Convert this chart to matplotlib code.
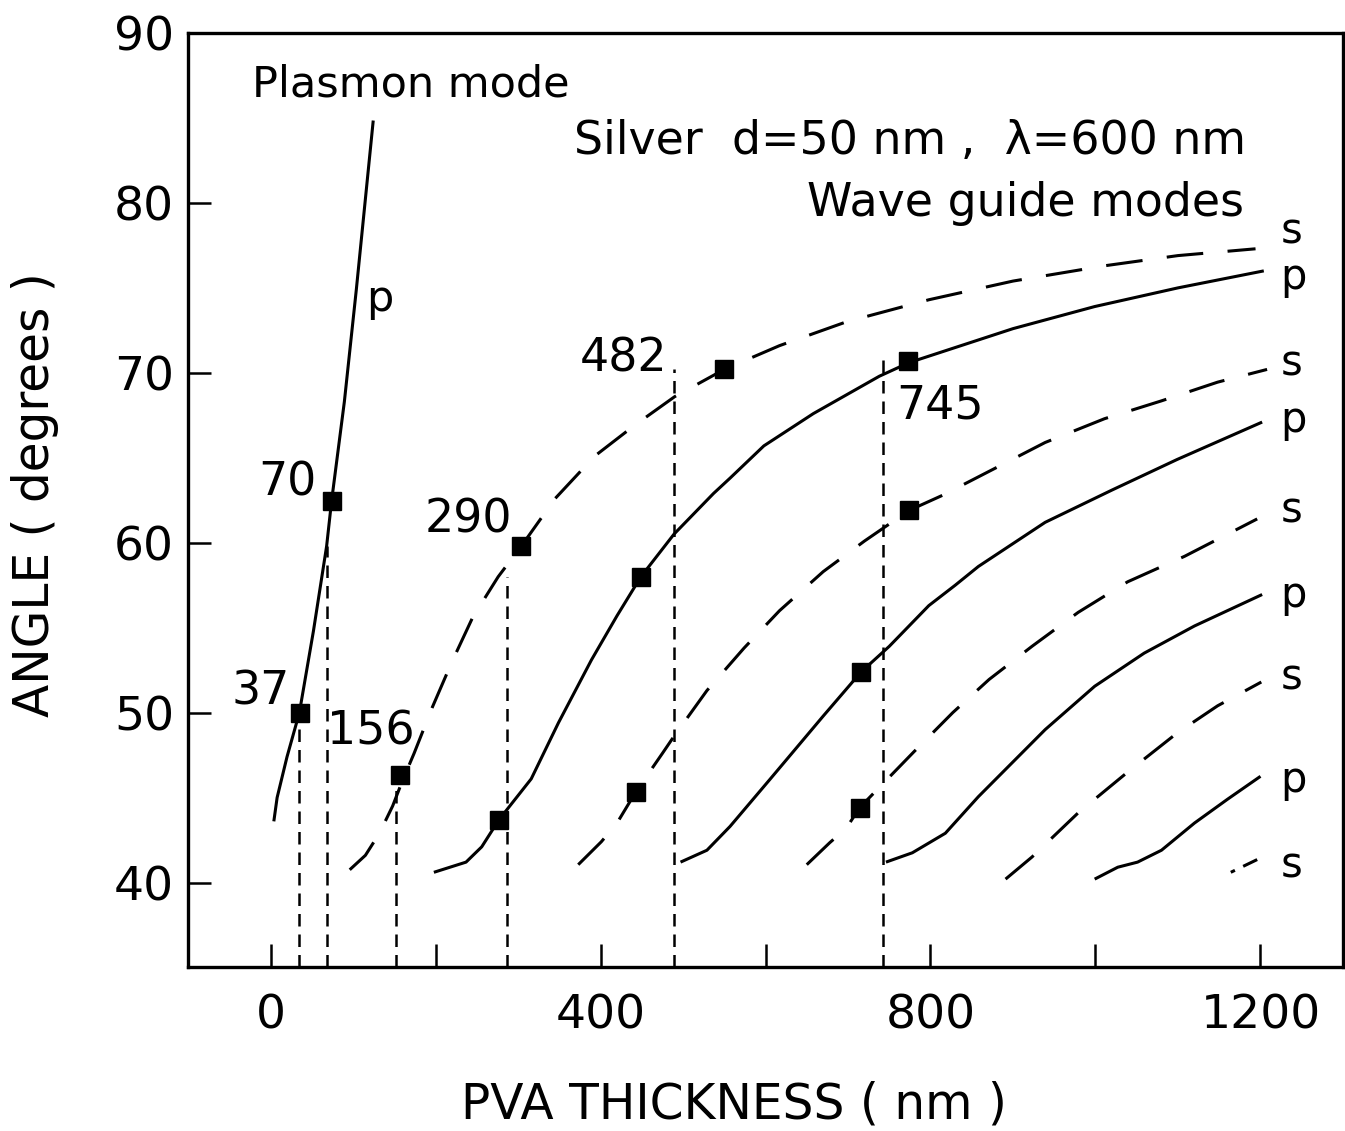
import matplotlib
matplotlib.use("Agg")
import matplotlib.pyplot as plt

# ---- data: PVA thickness (nm) vs angle (deg) ----
plasmon_x = [4, 8, 20, 35, 52, 68, 74, 89.5, 104, 124.5]
plasmon_y = [43.6, 45.0, 47.4, 50.0, 54.8, 59.8, 62.45, 68.3, 74.9, 84.85]

s1_x = [96, 115, 132, 148, 160, 174, 196, 220, 245, 276, 304, 345, 393, 441,
        490, 550, 617, 698, 798, 900, 1011, 1100, 1194]
s1_y = [40.75, 41.6, 42.9, 44.5, 46.0, 47.6, 50.3, 53.0, 55.6, 58.0, 59.8, 62.6,
        65.1, 66.9, 68.6, 70.2, 71.6, 73.0, 74.3, 75.4, 76.3, 76.9, 77.3]

p1_x = [198, 237, 256, 277, 316, 349, 389, 420, 449, 489, 537, 557, 598, 658,
        698, 738, 774, 900, 999, 1100, 1204]
p1_y = [40.6, 41.2, 42.1, 43.7, 46.1, 49.4, 53.1, 55.7, 58.0, 60.5, 62.9, 63.8,
        65.7, 67.6, 68.7, 69.8, 70.6, 72.6, 73.9, 75.0, 76.0]

s2_x = [373, 401, 420, 443, 475, 489, 529, 574, 617, 670, 720, 750, 774, 815,
        875, 939, 1011, 1080, 1148, 1208]
s2_y = [41.05, 42.4, 43.5, 45.35, 47.6, 48.6, 51.3, 53.8, 56.0, 58.3, 60.1,
        61.1, 61.9, 62.8, 64.3, 65.9, 67.3, 68.35, 69.45, 70.2]

p2_x = [497, 529, 557, 605, 670, 716, 750, 798, 830, 858, 939, 1020, 1099, 1202]
p2_y = [41.2, 41.9, 43.3, 46.05, 49.8, 52.4, 53.9, 56.3, 57.5, 58.6, 61.2,
        63.1, 64.9, 67.1]

s3_x = [650, 678, 698, 714, 740, 780, 827, 871, 923, 979, 1039, 1108, 1196]
s3_y = [41.05, 42.35, 43.2, 44.4, 45.7, 47.7, 50.0, 51.95, 53.9, 55.9, 57.7,
        59.2, 61.4]

p3_x = [746, 778, 818, 858, 899, 939, 999, 1059, 1120, 1202]
p3_y = [41.2, 41.75, 42.9, 45.05, 47.05, 49.0, 51.55, 53.5, 55.1, 56.95]

s4_x = [891, 923, 979, 1039, 1099, 1148, 1201]
s4_y = [40.2, 41.5, 44.1, 46.5, 48.8, 50.4, 51.8]

p4_x = [999, 1027, 1051, 1080, 1120, 1160, 1200]
p4_y = [40.2, 40.9, 41.2, 41.9, 43.5, 44.9, 46.25]

s5_x = [1164, 1196]
s5_y = [40.6, 41.35]

marker_x = [36, 74, 157, 304, 277, 449, 443, 550, 773, 774, 716, 715]
marker_y = [50.0, 62.45, 46.35, 59.8, 43.7, 58.0, 45.35, 70.2, 70.7, 61.9, 52.4, 44.4]

# vertical guide lines (thickness values marked on the plot)
guide_x = [34, 68, 152, 287, 489, 742]
guide_top = [49.6, 59.8, 46.0, 58.0, 70.2, 70.8]
guide_labels = ["37", "70", "156", "290", "482", "745"]
guide_label_x = [-12, 20, 122, 240, 428, 812]
guide_label_y = [50.5, 62.75, 48.1, 60.6, 70.05, 67.3]

mode_labels = ["s", "p", "s", "p", "s", "p", "s", "p", "s"]
mode_label_y = [77.6, 74.95, 69.85, 66.5, 61.2, 56.2, 51.35, 45.35, 40.28]

fig = plt.figure(figsize=(13.45, 11.31), dpi=100)
ax = fig.add_axes([0.1398, 0.1446, 0.8587, 0.8262])

solid = dict(color="black", lw=2.2, solid_capstyle="butt")
dashed = dict(color="black", lw=2.2, ls=(0, (12, 8)))

ax.plot(plasmon_x, plasmon_y, **solid)
for xs, ys in [(p1_x, p1_y), (p2_x, p2_y), (p3_x, p3_y), (p4_x, p4_y)]:
    ax.plot(xs, ys, **solid)
for xs, ys in [(s1_x, s1_y), (s2_x, s2_y), (s3_x, s3_y), (s4_x, s4_y)]:
    ax.plot(xs, ys, **dashed)
ax.plot(s5_x, s5_y, color="black", lw=2.2, ls=(0, (1.5, 3, 6, 3)))

for gx, gt in zip(guide_x, guide_top):
    ax.plot([gx, gx], [35, gt], color="black", lw=1.8, ls=(0, (5, 3.2)))

ax.plot(marker_x, marker_y, ls="none", marker="s", ms=13, color="black", zorder=5)

for lab, lx, ly in zip(guide_labels, guide_label_x, guide_label_y):
    ax.text(lx, ly, lab, fontsize=33, ha="center", va="baseline")

ax.text(132, 74.35, "p", fontsize=31, ha="center", va="center")
for lab, ly in zip(mode_labels, mode_label_y):
    ax.text(1224, ly, lab, fontsize=30, ha="left", va="baseline")

ax.text(-22, 86.27, "Plasmon mode", fontsize=31, ha="left", va="baseline")
ax.text(1183, 82.9, "Silver  d=50 nm ,  \u03bb=600 nm", fontsize=33,
        ha="right", va="baseline")
ax.text(1180, 79.25, "Wave guide modes", fontsize=33, ha="right", va="baseline")

ax.set_xlim(-100, 1300)
ax.set_ylim(35, 90)
ax.set_xticks([0, 400, 800, 1200])
ax.set_xticks([200, 600, 1000], minor=True)
ax.set_yticks([40, 50, 60, 70, 80, 90])
ax.tick_params(axis="both", which="both", direction="in", length=16.5, width=1.8,
               labelsize=34)
ax.tick_params(axis="x", which="major", pad=19)
ax.tick_params(axis="y", which="major", pad=10)
for sp in ax.spines.values():
    sp.set_linewidth(2.4)

fig.text(0.546, 0.011, "PVA THICKNESS ( nm )", fontsize=35, ha="center", va="baseline")
fig.text(0.026, 0.5623, "ANGLE ( degrees )", fontsize=35, rotation=90,
         ha="center", va="center")

fig.savefig("out.png", dpi=100)
